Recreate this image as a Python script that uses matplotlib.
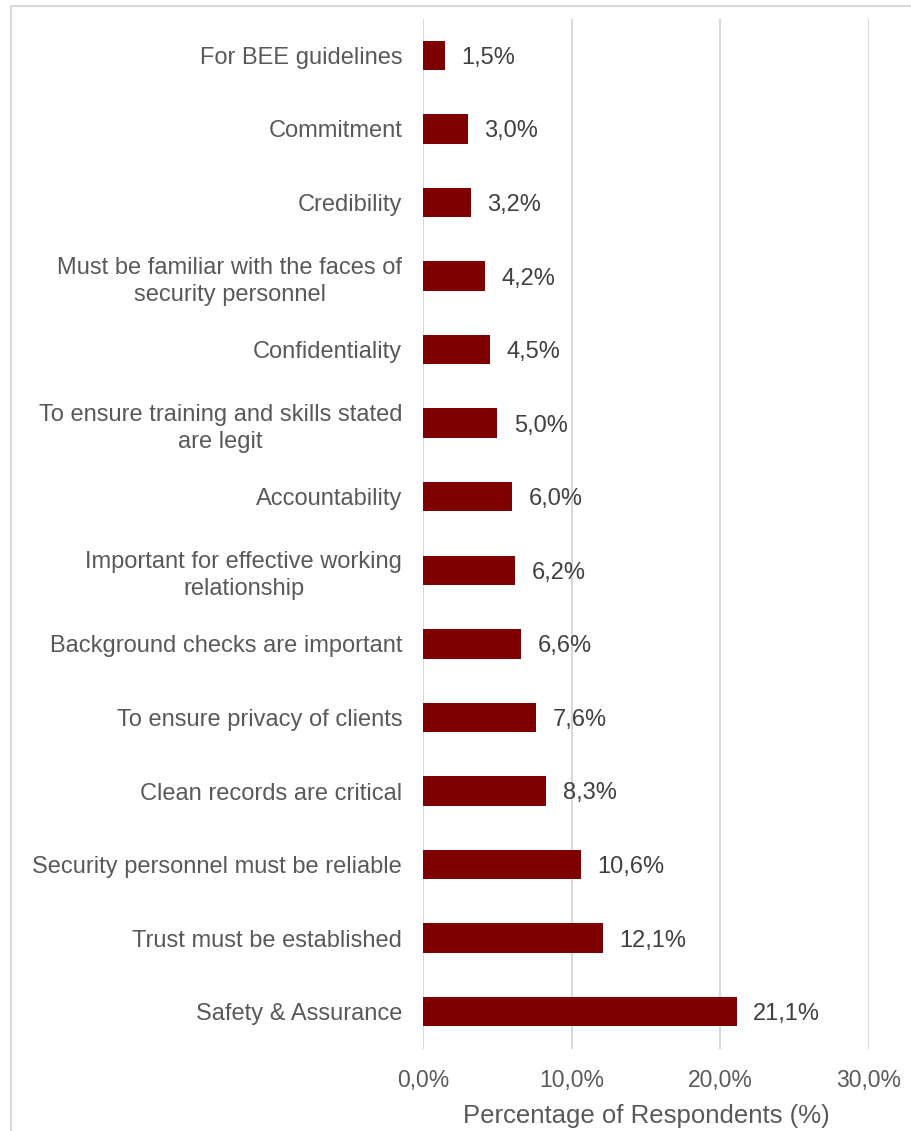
import matplotlib
matplotlib.use("Agg")
import matplotlib.pyplot as plt
from matplotlib.lines import Line2D

categories = [
    "Safety & Assurance",
    "Trust must be established",
    "Security personnel must be reliable",
    "Clean records are critical",
    "To ensure privacy of clients",
    "Background checks are important",
    "Important for effective working\nrelationship",
    "Accountability",
    "To ensure training and skills stated\nare legit",
    "Confidentiality",
    "Must be familiar with the faces of\nsecurity personnel",
    "Credibility",
    "Commitment",
    "For BEE guidelines",
]
values = [21.1, 12.1, 10.6, 8.3, 7.6, 6.6, 6.2, 6.0, 5.0, 4.5, 4.2, 3.2, 3.0, 1.5]
xticks = [0, 10, 20, 30]
xtick_labels = ["0,0%", "10,0%", "20,0%", "30,0%"]

plt.rcParams['font.family'] = ['Liberation Sans', 'DejaVu Sans']

W, H = 911, 1131
fig = plt.figure(figsize=(W / 100, H / 100), dpi=100)
ax = fig.add_axes([423 / W, 1 - 1048.5 / H, (869 - 423) / W, (1048.5 - 18.5) / H])

bar_color = "#7f0000"
ypos = list(range(len(categories)))
ax.barh(ypos, values, height=0.40, color=bar_color, zorder=3)
for y, v in zip(ypos, values):
    ax.text(v + 1.1, y, f"{v:.1f}%".replace(".", ","), va="center_baseline", ha="left",
            fontsize=17, color="#404040")

ax.set_xlim(0, 30)
ax.set_ylim(-0.5, len(categories) - 0.5)
ax.set_yticks(ypos)
ax.set_yticklabels(categories, fontsize=17, color="#595959", ha="right",
                   multialignment="center", linespacing=1.3)
ax.set_xticks(xticks)
ax.set_xticklabels(xtick_labels, fontsize=16.5, color="#595959")
ax.tick_params(axis="y", length=0, pad=15)
ax.tick_params(axis="x", length=0, pad=14.5)
ax.grid(axis="x", color="#d9d9d9", linewidth=1.5, zorder=0)
for s in ax.spines.values():
    s.set_visible(False)
ax.set_xlabel("Percentage of Respondents (%)", fontsize=18.5, color="#595959", labelpad=9)

# outer chart frame (partially visible)
fig.add_artist(Line2D([10.5 / W, 10.5 / W], [0, 1 - 5.5 / H], transform=fig.transFigure,
                      color="#d9d9d9", linewidth=1.5))
fig.add_artist(Line2D([10.5 / W, 1], [1 - 5.5 / H, 1 - 5.5 / H], transform=fig.transFigure,
                      color="#d9d9d9", linewidth=1.5))

fig.savefig("out.png", dpi=100)
